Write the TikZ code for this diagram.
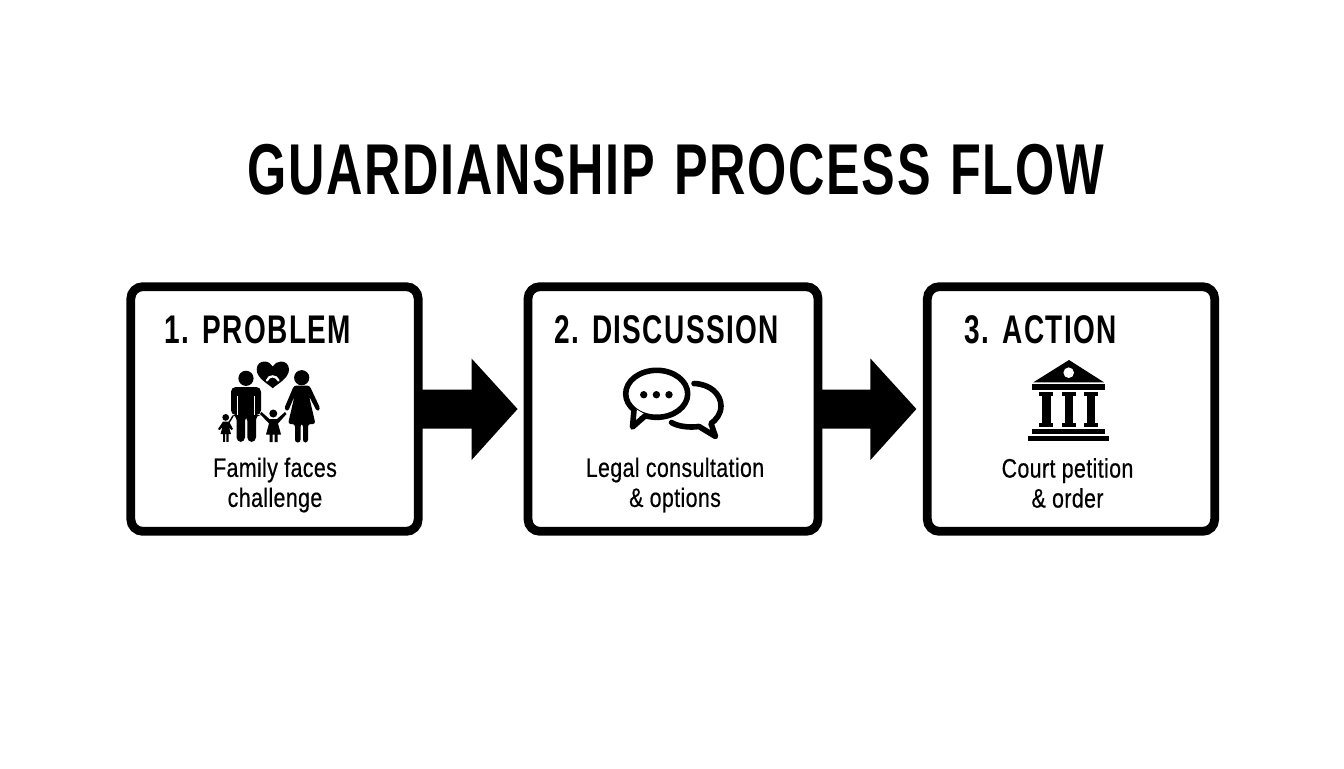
\documentclass[tikz,border=0pt]{standalone}
\usepackage{fontspec}
\setmainfont{Liberation Sans}
\newfontfamily\titlefont[FakeStretch=0.70,LetterSpace=2.3,WordSpace=1.25]{Liberation Sans}
\newfontfamily\headfont[FakeStretch=0.70,LetterSpace=3.5,WordSpace=1.1]{Liberation Sans}
\newfontfamily\bodyfont[FakeStretch=0.80,LetterSpace=1.5,FakeBold=0.5]{Liberation Sans}
\usetikzlibrary{calc}
\tikzset{
  stepbox/.style={draw=black,line width=6.6pt,rounded corners=9pt,fill=white,minimum width=215.5pt,minimum height=183.5pt,inner sep=0pt},
  titletext/.style={font=\titlefont\bfseries\fontsize{54}{60}\selectfont,text=black},
  headtext/.style={font=\headfont\bfseries\fontsize{30}{32}\selectfont,text=black,anchor=west},
  bodytext/.style={font=\bodyfont\fontsize{20}{22.5}\selectfont,text=black,align=center},
  flowarrow/.style={fill=black,draw=none},
  icon/.style={fill=black,draw=none},
  iconline/.style={draw=black,line width=4.2pt,fill=none,line cap=round,line join=round},
}
\begin{document}
\begin{tikzpicture}[x=0.75pt,y=-0.75pt]
\useasboundingbox (0,0) rectangle (1344,768);
\fill[white] (0,0) rectangle (1344,768);
\node[titletext] (title) at (675.5,170) {GUARDIANSHIP PROCESS FLOW};
\node[stepbox] (b1) at (274.5,409) {};
\node[stepbox,minimum width=217.5pt] (b2) at (673,409) {};
\node[stepbox] (b3) at (1071,409) {};
% arrows
\fill[flowarrow] (b1.east) ++(-2,-19.5) -- ++(51,0) -- ++(0,-31) -- ($(b1.east)+(95,0)$) -- ($(b1.east)+(49,51)$) -- ++(0,-31.5) -- ($(b1.east)+(-2,19.5)$) -- cycle;
\fill[flowarrow] (b2.east) ++(-2,-19.5) -- ++(50,0) -- ++(0,-31) -- ($(b2.east)+(94,0)$) -- ($(b2.east)+(48,51)$) -- ++(0,-31.5) -- ($(b2.east)+(-2,19.5)$) -- cycle;
% headings
\node[headtext] (h1) at (160,330) {1. PROBLEM};
\node[headtext] (h2) at (549.5,330) {2. DISCUSSION};
\node[headtext] (h3) at (960,330) {3. ACTION};
\node[bodytext] (t1) at (275,485) {Family faces\\challenge};
\node[bodytext] (t2) at (675,485) {Legal consultation\\\& options};
\node[bodytext] (t3) at (1067.5,483) {Court petition\\\& order};
% family icon
\fill[icon] (246,378.3) circle (7.6);
\fill[icon,rounded corners=3.5] (231,415) -- (231,387) -- (261,387) -- (261,415) -- (256,415) -- (256,442) -- (247.3,442) -- (247.3,416) -- (245,416) -- (245,442) -- (236.5,442) -- (236.5,415) -- cycle;
\draw[white,line width=0.8pt] (237.3,396) -- (237.3,415) (254.7,396) -- (254.7,415);
\fill[icon] (301.7,377.7) circle (7.6);
\fill[icon,rounded corners=2] (294,385.5) -- (309.5,385.5) -- (320.5,409) -- (317,411.5) -- (309,396) -- (315.5,424) -- (308,424) -- (308,442.5) -- (303,442.5) -- (303,424) -- (300.5,424) -- (300.5,442.5) -- (295,442.5) -- (295,424) -- (288,424) -- (294.5,396) -- (288,411.5) -- (284,409) -- cycle;
\fill[icon] (225.7,417.4) circle (3.4);
\fill[icon] (223,421.5) -- (229,421.5) -- (233,429) -- (231.3,430) -- (229,427) -- (231,434) -- (228.5,434) -- (228.5,441.8) -- (226.4,441.8) -- (226.4,434) -- (225.2,434) -- (225.2,441.8) -- (223,441.8) -- (223,434) -- (220.5,434) -- (222.5,427) -- (219.5,430) -- (218,429) -- cycle;
\draw[black,line width=1.1pt] (229,422.5) -- (233,416);
\fill[icon] (273.3,413.5) circle (4);
\fill[icon] (269.5,419) -- (277,419) -- (285,412) -- (286.5,414) -- (278,423.5) -- (281,434.5) -- (277.5,434.5) -- (277.5,442) -- (274.5,442) -- (274.5,434.5) -- (272.5,434.5) -- (272.5,442) -- (269.5,442) -- (269.5,434.5) -- (266,434.5) -- (269,423.5) -- (260,414) -- (261.5,412) -- cycle;
\fill[icon] (272.7,388.2) .. controls (269,384.5) and (256.7,378.5) .. (256.7,369.5) .. controls (256.7,364) and (260.5,361.5) .. (264.5,361.5) .. controls (268,361.5) and (271,363.5) .. (272.7,366.5) .. controls (274.5,363.5) and (277.5,361.5) .. (281,361.5) .. controls (285,361.5) and (289,364) .. (289,369.5) .. controls (289,378.5) and (276.5,384.5) .. (272.7,388.2) -- cycle;
\draw[white,line width=1.7pt,line cap=round] (267,380.5) .. controls (268.5,375) and (276.5,375) .. (278.5,380.5);
% speech bubbles
\draw[iconline] (656.7,393.8) ellipse [x radius=31, y radius=23.5];
\fill[white] (634,408) -- (634,418) -- (646,415) -- cycle;
\draw[iconline] (634,410) -- (632.5,427) -- (645,416);
\draw[iconline] (694,383.5) .. controls (710,384) and (721,394) .. (721,406) .. controls (721,414) and (716,420) .. (711,423.5) -- (715.5,436.5) -- (699,426.5) .. controls (688,428) and (677,426) .. (671.5,422.5);
\fill[icon] (643.7,394.7) circle (3.7);
\fill[icon] (656.4,394.7) circle (3.7);
\fill[icon] (669,394.7) circle (3.7);
% court icon
\fill[icon] (1069,360) -- (1104,382.3) -- (1033.3,382.3) -- cycle;
\fill[white] (1068.7,372.7) circle (5.3);
\fill[icon] (1032.3,384.3) rectangle (1105,390);
\foreach \cx in {1046.3,1069,1091} {
  \fill[icon] (\cx-7,392.3) rectangle (\cx+7,396);
  \fill[icon] (\cx-4.3,396) rectangle (\cx+4.3,423);
  \fill[icon] (\cx-7,422.7) rectangle (\cx+7,426.7);
}
\fill[icon] (1032.3,429) rectangle (1104.7,434);
\fill[icon] (1027.7,436.3) rectangle (1109,441.3);
\end{tikzpicture}
\end{document}
